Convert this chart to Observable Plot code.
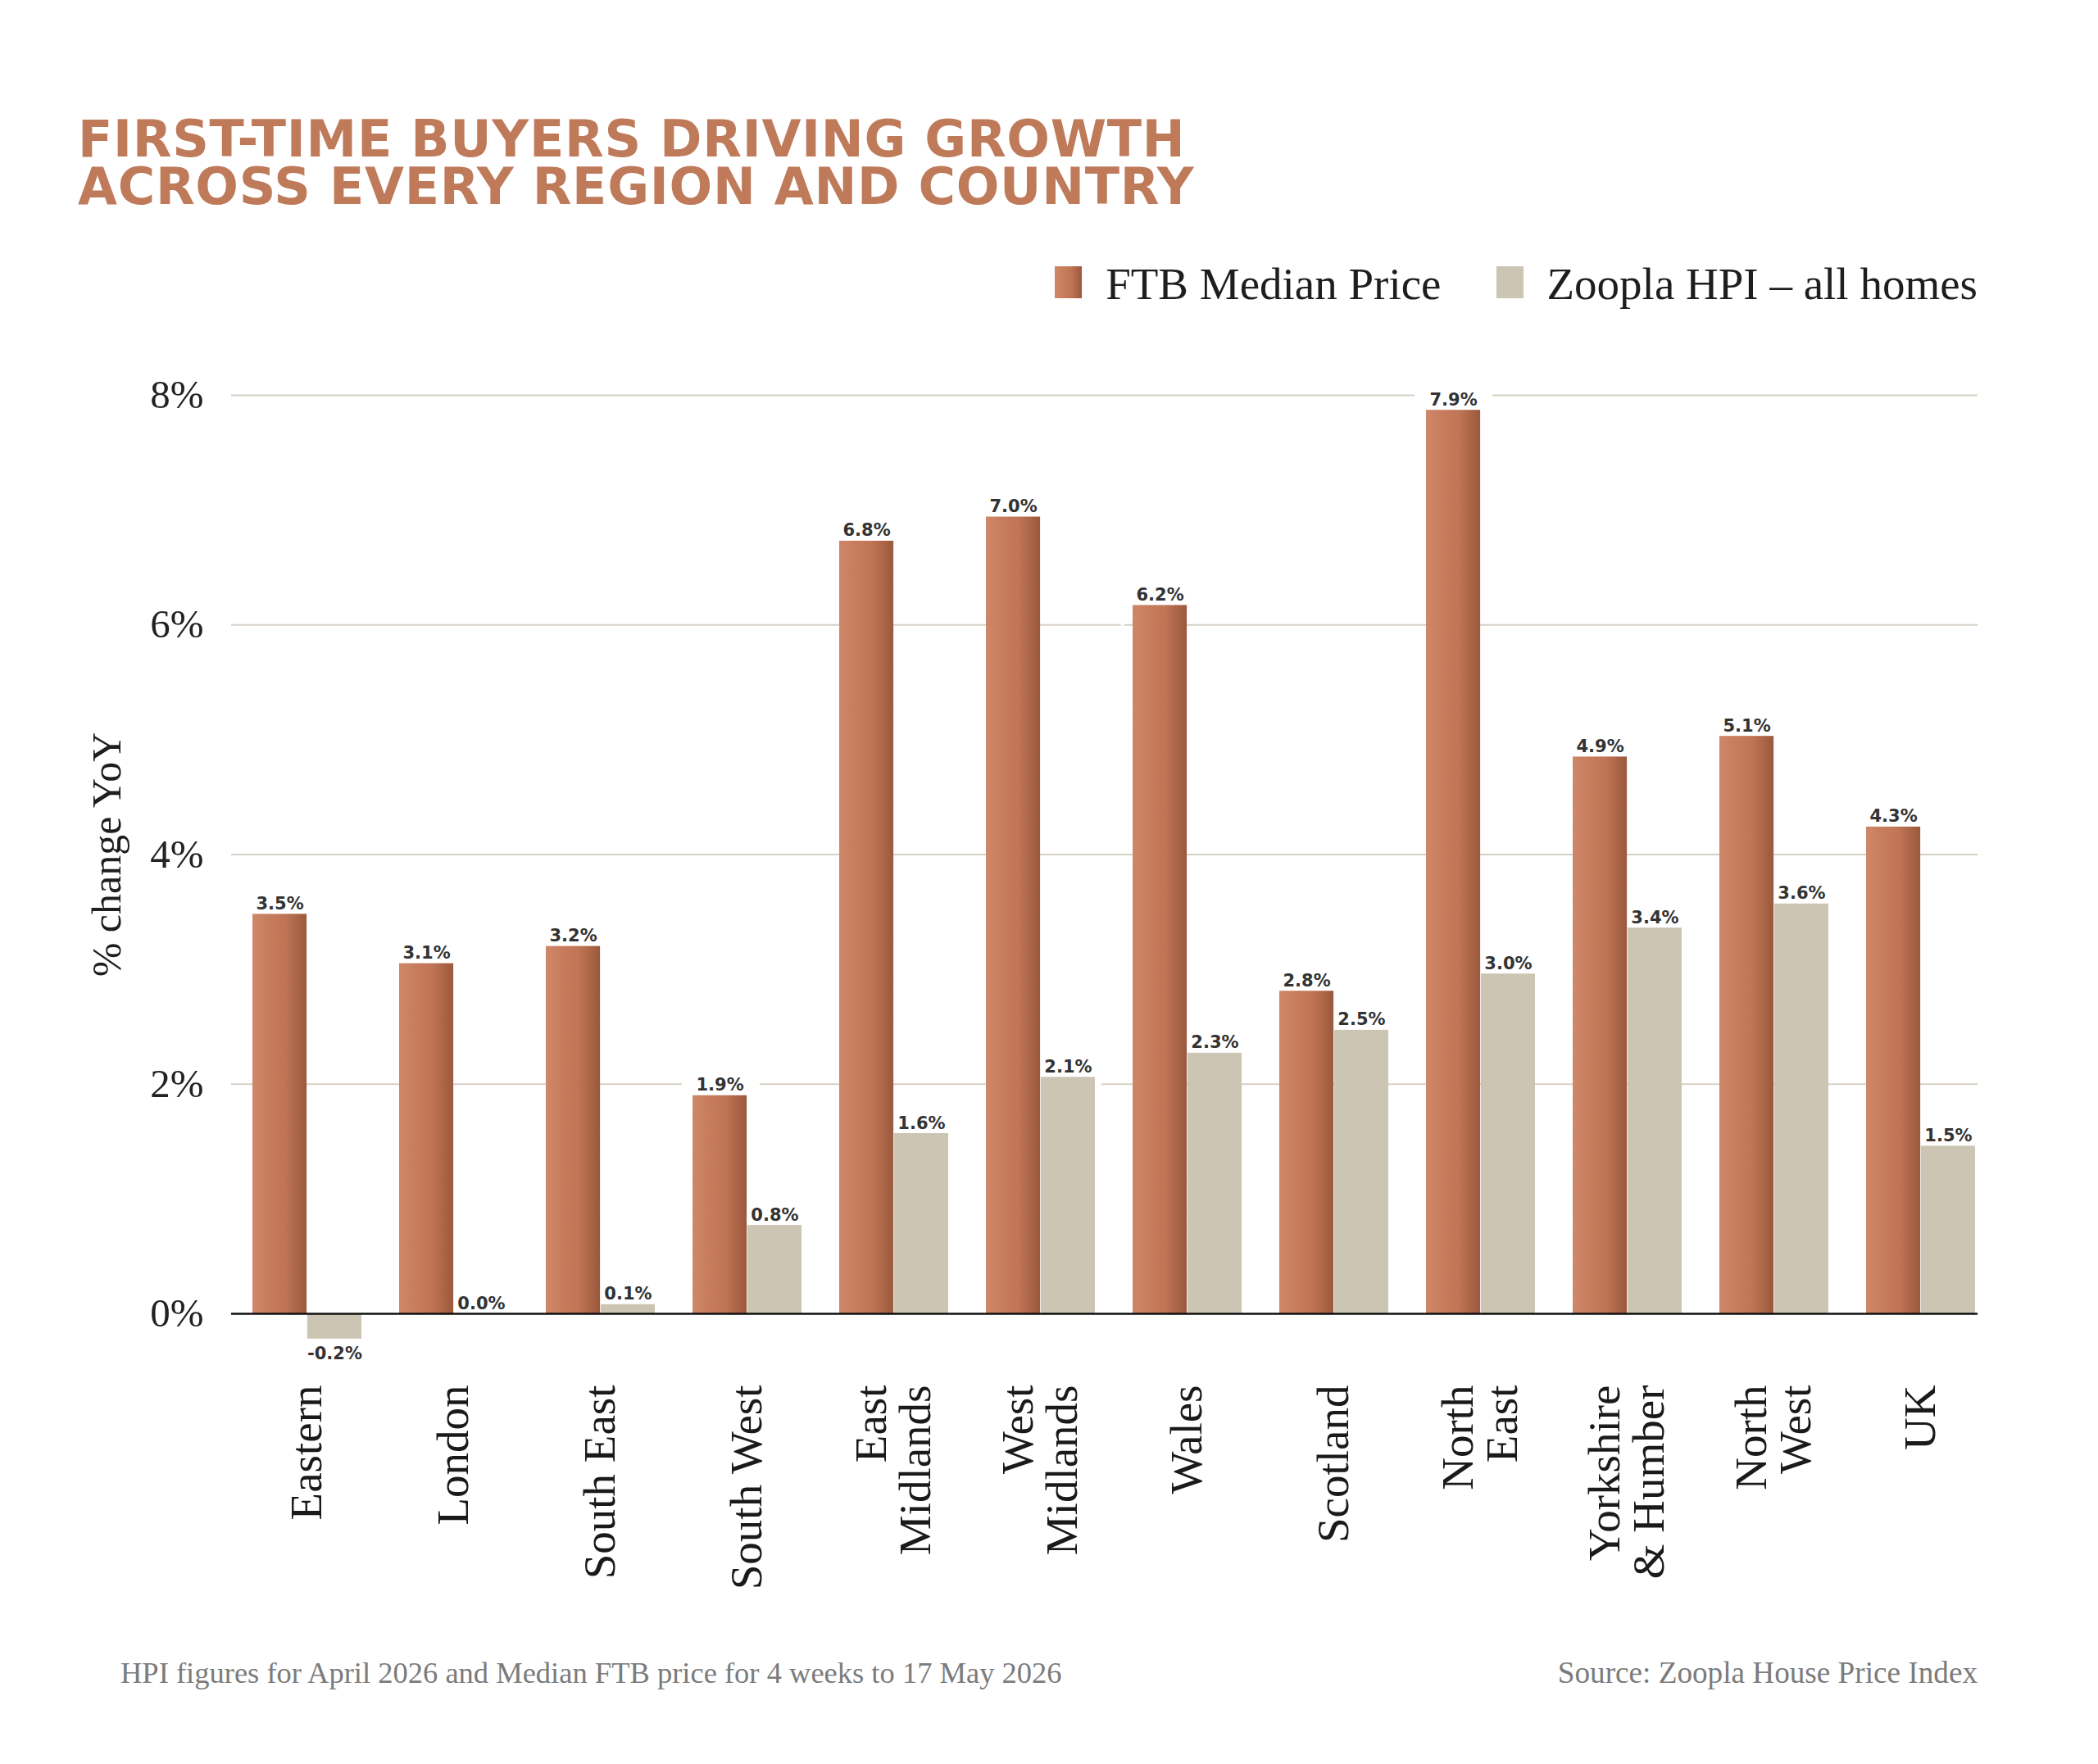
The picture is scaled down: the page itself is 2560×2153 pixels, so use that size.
<!DOCTYPE html>
<html>
<head>
<meta charset="utf-8">
<script src="https://cdn.jsdelivr.net/npm/d3@7"></script>
<script src="https://cdn.jsdelivr.net/npm/@observablehq/plot@0.6"></script>
<style>
  html, body { margin: 0; padding: 0; background: #ffffff; }
  body { width: 2560px; height: 2153px; position: relative; overflow: hidden; }
  .title { position: absolute; left: 95px; font-family: "DejaVu Sans", sans-serif; font-weight: bold;
           font-size: 62px; line-height: 50px; height: 50px; color: #bf7a5a; white-space: nowrap; letter-spacing: 0.7px; }
  .legend { position: absolute; right: 147px; top: 319px; display: flex; align-items: flex-start;
            font-family: "Liberation Serif", serif; font-size: 55px; line-height: 55px; color: #1e1e1e; }
  .legend .item { display: flex; align-items: flex-start; }
  .legend .item + .item { margin-left: 67px; }
  .legend .sw { width: 33px; height: 39px; margin-top: 6px; margin-right: 29px; }
  .footer { position: absolute; top: 2023px; font-family: "Liberation Serif", serif; font-size: 37px;
            line-height: 37px; color: #7b7b7b; white-space: nowrap; }
  #chart { position: absolute; left: 0; top: 400px; }
</style>
</head>
<body>
<div class="title" id="title1" style="top:145px"></div>
<div class="title" id="title2" style="top:203px"></div>
<div class="legend" id="legend"></div>
<div class="footer" id="note" style="left:147px; font-size:36.5px"></div>
<div class="footer" id="source" style="right:147px; font-size:37.2px"></div>
<div id="chart"></div>
<script>
// ---- data ----
const titleLines = ["FIRST-TIME BUYERS DRIVING GROWTH", "ACROSS EVERY REGION AND COUNTRY"];
const seriesNames = ["FTB Median Price", "Zoopla HPI – all homes"];
const regions = ["Eastern", "London", "South East", "South West", "East Midlands", "West Midlands",
                 "Wales", "Scotland", "North East", "Yorkshire & Humber", "North West", "UK"];
const regionLabels = ["Eastern", "London", "South East", "South West", "East\nMidlands", "West\nMidlands",
                      "Wales", "Scotland", "North\nEast", "Yorkshire\n& Humber", "North\nWest", "UK"];
const ftbValues = [3.48, 3.05, 3.20, 1.90, 6.73, 6.94, 6.17, 2.81, 7.87, 4.85, 5.03, 4.24];
const ftbLabels = ["3.5%", "3.1%", "3.2%", "1.9%", "6.8%", "7.0%", "6.2%", "2.8%", "7.9%", "4.9%", "5.1%", "4.3%"];
const hpiValues = [-0.22, 0.0, 0.08, 0.77, 1.57, 2.06, 2.27, 2.47, 2.96, 3.36, 3.57, 1.46];
const hpiLabels = ["-0.2%", "0.0%", "0.1%", "0.8%", "1.6%", "2.1%", "2.3%", "2.5%", "3.0%", "3.4%", "3.6%", "1.5%"];
const yTicks = [0, 2, 4, 6, 8];
const yTitle = "% change YoY";
const noteText = "HPI figures for April 2026 and Median FTB price for 4 weeks to 17 May 2026";
const sourceText = "Source: Zoopla House Price Index";

// ---- colours ----
const ftbColor = "url(#ftbGrad)";
const hpiColor = "#cdc5b3";
const gridColor = "#d6d0c4";

// ---- header / footer ----
document.getElementById("title1").textContent = titleLines[0];
document.getElementById("title2").textContent = titleLines[1];
const legend = document.getElementById("legend");
seriesNames.forEach((name, i) => {
  const item = document.createElement("div");
  item.className = "item";
  const sw = document.createElement("div");
  sw.className = "sw";
  sw.style.background = i === 0
    ? "linear-gradient(to right, #cd8869 0%, #c67b5b 35%, #c07556 60%, #9b583c 100%)"
    : hpiColor;
  const t = document.createElement("span");
  t.textContent = name;
  item.appendChild(sw); item.appendChild(t);
  legend.appendChild(item);
});
document.getElementById("note").textContent = noteText;
document.getElementById("source").textContent = sourceText;

// ---- chart ----
const W = 2560, H = 1600, mL = 282, mR = 147, mT = 82, mB = 397;
const xRange = [305, 2413], padIn = 0.2545;
const step = (xRange[1] - xRange[0]) / (regions.length - padIn);
const bw = step * (1 - padIn);
const half = bw / 2;

const ftb = regions.map((r, i) => ({region: r, value: ftbValues[i], label: ftbLabels[i]}));
const hpi = regions.map((r, i) => ({region: r, value: hpiValues[i], label: hpiLabels[i]}));

const lbl = {fontFamily: "DejaVu Sans", fontWeight: "bold", fontSize: 21};
const halo = {fill: "white", stroke: "white", strokeWidth: 40, strokeLinejoin: "miter"};
const pos = d => d.value >= 0;
const neg = d => d.value < 0;

const chart = Plot.plot({
  width: W, height: H,
  marginLeft: mL, marginRight: mR, marginTop: mT, marginBottom: mB,
  style: {fontFamily: "Liberation Serif", fontSize: "49px", color: "#222", background: "transparent", overflow: "visible"},
  x: {domain: regions, range: xRange, paddingInner: padIn, paddingOuter: 0, axis: null},
  y: {domain: [0, 8], axis: null, label: null},
  marks: [
    Plot.ruleY(yTicks.filter(d => d !== 0), {stroke: gridColor, strokeWidth: 2}),
    // label halos (mask gridlines only)
    Plot.text(ftb, {filter: pos, x: "region", y: "value", text: "label", dx: -half / 2, dy: -6, lineAnchor: "bottom", ...lbl, ...halo}),
    Plot.text(hpi, {filter: pos, x: "region", y: "value", text: "label", dx: half / 2, dy: -6, lineAnchor: "bottom", ...lbl, ...halo}),
    // bars
    Plot.barY(ftb, {x: "region", y: "value", insetRight: half, fill: ftbColor}),
    Plot.barY(hpi, {x: "region", y: "value", insetLeft: half, fill: hpiColor}),
    Plot.ruleY([0], {stroke: "#111", strokeWidth: 2.5}),
    // value labels
    Plot.text(ftb, {filter: pos, x: "region", y: "value", text: "label", dx: -half / 2, dy: -6, lineAnchor: "bottom", fill: "#333", ...lbl}),
    Plot.text(hpi, {filter: pos, x: "region", y: "value", text: "label", dx: half / 2, dy: -6, lineAnchor: "bottom", fill: "#333", ...lbl}),
    Plot.text(hpi, {filter: neg, x: "region", y: "value", text: "label", dx: half / 2, dy: 10, lineAnchor: "top", fill: "#333", ...lbl}),
    // axes
    Plot.axisY({ticks: yTicks, tickFormat: d => d + "%", tickSize: 0, tickPadding: 34, fontSize: 49, fill: "#222", label: null}),
    Plot.text(regions, {x: d => d, text: (d, i) => regionLabels[i], frameAnchor: "bottom", dy: 87, rotate: -90,
                        textAnchor: "end", lineAnchor: "middle", lineHeight: 0.98, fontSize: 55, fill: "#1a1a1a",
                        fontFamily: "Liberation Serif"}),
    Plot.text([yTitle], {frameAnchor: "left", dx: -152, rotate: -90, textAnchor: "middle", fontSize: 50,
                         fill: "#1e1e1e", fontFamily: "Liberation Serif"})
  ]
});

// gradient definition for FTB bars
const ns = "http://www.w3.org/2000/svg";
const defs = document.createElementNS(ns, "defs");
const grad = document.createElementNS(ns, "linearGradient");
grad.setAttribute("id", "ftbGrad");
grad.setAttribute("x1", "0"); grad.setAttribute("x2", "1");
grad.setAttribute("y1", "0"); grad.setAttribute("y2", "0");
[["0%", "#cd8869"], ["35%", "#c67b5b"], ["60%", "#c07556"], ["100%", "#9b583c"]].forEach(([o, c]) => {
  const s = document.createElementNS(ns, "stop");
  s.setAttribute("offset", o); s.setAttribute("stop-color", c);
  grad.appendChild(s);
});
defs.appendChild(grad);
chart.insertBefore(defs, chart.firstChild);

document.getElementById("chart").appendChild(chart);
</script>
</body>
</html>
